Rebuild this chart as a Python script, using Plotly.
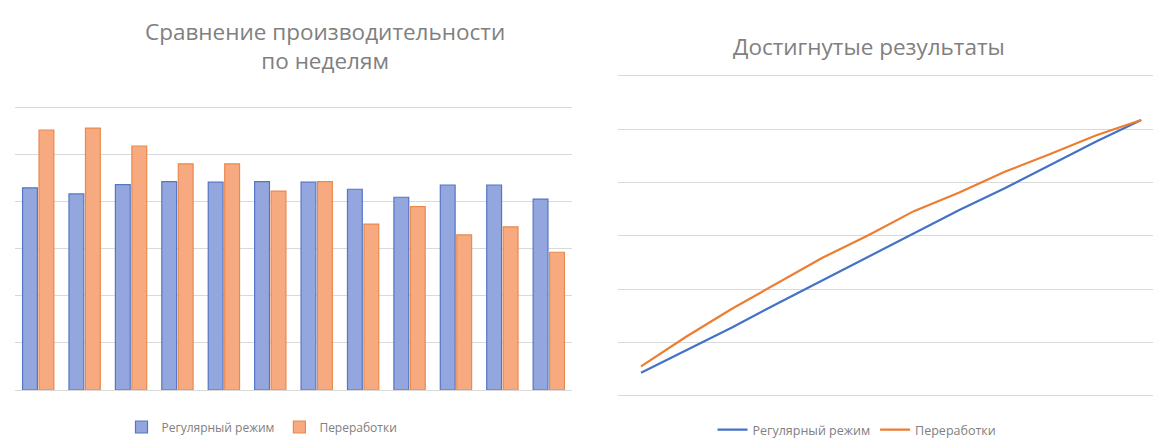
import plotly.graph_objects as go

# ---- data ----
weeks = [f"Неделя {i}" for i in range(1, 13)]
regular = [4.30, 4.17, 4.37, 4.43, 4.42, 4.43, 4.42, 4.27, 4.10, 4.36, 4.36, 4.06]
overtime = [5.53, 5.57, 5.19, 4.81, 4.81, 4.23, 4.43, 3.53, 3.90, 3.30, 3.47, 2.93]
regular_total = [4.3, 8.5, 12.8, 17.3, 21.7, 26.1, 30.5, 34.8, 38.9, 43.3, 47.6, 51.7]
overtime_total = [5.5, 11.1, 16.3, 21.1, 25.9, 30.1, 34.6, 38.1, 42.0, 45.3, 48.8, 51.7]
series_names = ["Регулярный режим", "Переработки"]
title_left = "Сравнение производительности<br>по неделям"
title_right = "Достигнутые результаты"

FONT = "Open Sans"
GRID = "#d9d9d9"
TXT = "#808080"

W, H = 1153, 446

fig = go.Figure()

fig.add_trace(go.Bar(
    x=weeks, y=regular, name=series_names[0],
    marker=dict(color="#93a7de", line=dict(color="#5576c4", width=1.2)),
    xaxis="x", yaxis="y", legend="legend",
))
fig.add_trace(go.Bar(
    x=weeks, y=overtime, name=series_names[1],
    marker=dict(color="#f7aa7f", line=dict(color="#e98a4f", width=1.2)),
    xaxis="x", yaxis="y", legend="legend",
))
fig.add_trace(go.Scatter(
    x=weeks, y=regular_total, name=series_names[0], mode="lines",
    line=dict(color="#4472c4", width=2.2),
    xaxis="x2", yaxis="y2", legend="legend2",
))
fig.add_trace(go.Scatter(
    x=weeks, y=overtime_total, name=series_names[1], mode="lines",
    line=dict(color="#ed7d31", width=2.2),
    xaxis="x2", yaxis="y2", legend="legend2",
))

def px_x(p):
    return p / W

def px_y(p):
    return (H - p) / H

fig.update_layout(
    width=W, height=H,
    margin=dict(l=0, r=0, t=0, b=0),
    paper_bgcolor="white", plot_bgcolor="white",
    font=dict(family=FONT, color=TXT),
    barmode="group", bargap=0.29, bargroupgap=0.1,
    xaxis=dict(domain=[px_x(15), px_x(572)], showticklabels=False, showgrid=False,
               zeroline=False, showline=False, ticks=""),
    yaxis=dict(domain=[px_y(390), px_y(105.55)], range=[0, 6.05], dtick=1,
               showticklabels=False, showgrid=True, gridcolor=GRID, gridwidth=1,
               zeroline=True, zerolinecolor=GRID, zerolinewidth=1, showline=False, ticks=""),
    xaxis2=dict(domain=[px_x(618.3), 1.0], range=[-0.5, 11.26], showticklabels=False,
                showgrid=False, zeroline=False, showline=False, ticks=""),
    yaxis2=dict(domain=[px_y(395.7), px_y(73.0)], range=[0, 60.5], dtick=10,
                showticklabels=False, showgrid=True, gridcolor=GRID, gridwidth=1,
                zeroline=True, zerolinecolor=GRID, zerolinewidth=1, showline=False, ticks=""),
    legend=dict(orientation="h", x=px_x(262), xanchor="center", y=px_y(427), yanchor="middle",
                font=dict(family=FONT, size=12, color=TXT), bgcolor="rgba(0,0,0,0)",
                itemwidth=30, traceorder="normal"),
    legend2=dict(orientation="h", x=px_x(857), xanchor="center", y=px_y(430), yanchor="middle",
                 font=dict(family=FONT, size=12.5, color=TXT), bgcolor="rgba(0,0,0,0)",
                 itemwidth=30, traceorder="normal"),
    showlegend=True,
    annotations=[
        dict(text=title_left, x=px_x(325), y=px_y(46), xref="paper", yref="paper",
             xanchor="center", yanchor="middle", showarrow=False,
             font=dict(family=FONT, size=22.5, color=TXT)),
        dict(text=title_right, x=px_x(869), y=px_y(47), xref="paper", yref="paper",
             xanchor="center", yanchor="middle", showarrow=False,
             font=dict(family=FONT, size=22.5, color=TXT)),
    ],
)

fig.write_html("out.html")
